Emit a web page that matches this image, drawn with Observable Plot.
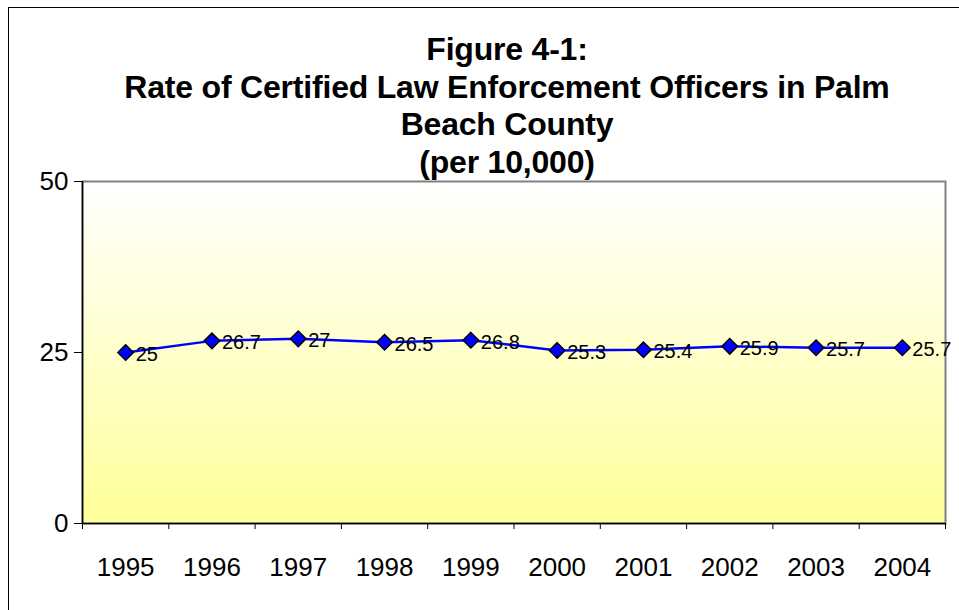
<!DOCTYPE html>
<html>
<head>
<meta charset="utf-8">
<script src="https://cdn.jsdelivr.net/npm/d3@7"></script>
<script src="https://cdn.jsdelivr.net/npm/@observablehq/plot@0.6"></script>
<style>
  html, body { margin: 0; padding: 0; background: #fff; overflow: hidden; }
  #wrap { position: relative; width: 959px; height: 610px; overflow: hidden; font-family: "Liberation Sans", Arial, sans-serif; }
  #border { position: absolute; left: 8px; top: 7px; right: 0; bottom: 0; border-top: 1px solid #000; border-left: 1px solid #000; }
  #chart { position: absolute; left: 0; top: 0; }
  #title { position: absolute; left: 7px; width: 1000px; top: 31px; text-align: center; font-weight: bold; font-size: 32px; line-height: 37.7px; white-space: nowrap; color: #000; letter-spacing: -0.2px; }
</style>
</head>
<body>
<div id="wrap">
  <div id="border"></div>
  <div id="chart"></div>
  <div id="title"></div>
</div>
<script>
const titleLines = ["Figure 4-1:", "Rate of Certified Law Enforcement Officers in Palm", "Beach County", "(per 10,000)"];
const years = [1995, 1996, 1997, 1998, 1999, 2000, 2001, 2002, 2003, 2004];
const rates = [25, 26.7, 27, 26.5, 26.8, 25.3, 25.4, 25.9, 25.7, 25.7];
const yTicks = [0, 25, 50];

const data = years.map((year, i) => ({year, rate: rates[i]}));
const boundaries = [years[0] - 0.5, ...years.map(y => y + 0.5)];

const titleEl = document.getElementById("title");
titleLines.forEach((t, i) => {
  if (i) titleEl.appendChild(document.createElement("br"));
  titleEl.appendChild(document.createTextNode(t));
});

const svg = Plot.plot({
  width: 959,
  height: 610,
  marginLeft: 82,
  marginRight: 14,
  marginTop: 181,
  marginBottom: 87,
  style: { fontFamily: "'Liberation Sans', Arial, sans-serif", fontSize: "26px", background: "transparent", color: "#000", overflow: "visible" },
  x: { type: "linear", domain: [years[0] - 0.5, years[years.length - 1] + 0.5] },
  y: { domain: [0, 50] },
  marks: [
    Plot.frame({ fill: "url(#bgGrad)", stroke: "#808080", strokeWidth: 2 }),
    Plot.ruleX([years[0] - 0.5], { stroke: "#000", strokeWidth: 1.5 }),
    Plot.ruleY([0], { stroke: "#000", strokeWidth: 1.5 }),
    Plot.axisY({ ticks: yTicks, tickSize: 8, tickPadding: 6, label: null, tickFormat: d => String(d) }),
    Plot.axisX({ ticks: boundaries, tickSize: 6, tickFormat: () => "", label: null }),
    Plot.axisX({ ticks: years, tickSize: 0, tickPadding: 34, tickFormat: d => String(d), label: null }),
    Plot.line(data, { x: "year", y: "rate", stroke: "#0000FF", strokeWidth: 2.5 }),
    Plot.dot(data, { x: "year", y: "rate", symbol: "diamond2", r: 7, fill: "#0000FF", stroke: "#000", strokeWidth: 1.5 }),
    Plot.text(data, { x: "year", y: "rate", text: d => String(d.rate), textAnchor: "start", dx: 10, dy: 2, fontSize: 20, fill: "#000" })
  ]
});

const ns = "http://www.w3.org/2000/svg";
const defs = document.createElementNS(ns, "defs");
defs.innerHTML = '<linearGradient id="bgGrad" x1="0" y1="0" x2="0" y2="1"><stop offset="0" stop-color="#ffffff"/><stop offset="1" stop-color="#ffff99"/></linearGradient>';
svg.insertBefore(defs, svg.firstChild);
document.getElementById("chart").appendChild(svg);
</script>
</body>
</html>
